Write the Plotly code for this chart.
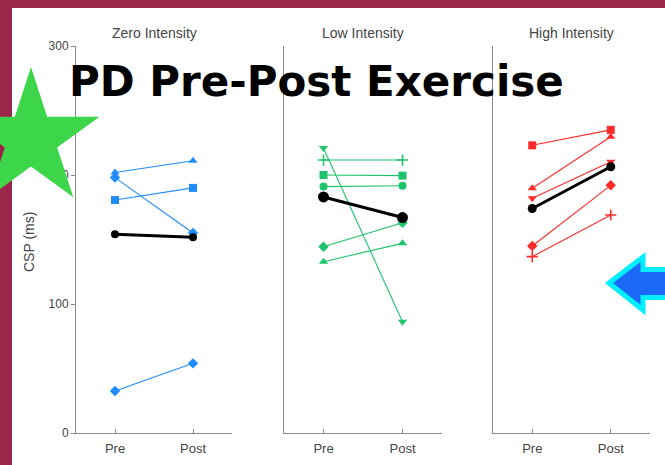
import math
import plotly.graph_objects as go

# ---------------- data ----------------
phases = ["Pre", "Post"]
panel_titles = ["Zero Intensity", "Low Intensity", "High Intensity"]
y_ticks = [0, 100, 200, 300]
y_title = "CSP (ms)"
main_title = "PD Pre-Post Exercise"

# Zero intensity (blue)
zero_pre = [202, 198, 180.6, 32.6]
zero_post = [211, 155, 190, 54]
zero_symbols = ["triangle-up", "diamond", "square", "diamond"]
zero_mean_pre, zero_mean_post = 154, 151.7

# Low intensity (green)
low_pre = [221, 211.6, 200, 191, 144.4, 132.8]
low_post = [86.3, 211.6, 199.5, 191.7, 163, 147]
low_symbols = ["triangle-down", "cross-thin", "square", "circle", "diamond", "triangle-up"]
low_mean_pre, low_mean_post = 183, 167

# High intensity (red)
high_pre = [223, 189.7, 182, 145, 136.7]
high_post = [235, 229.7, 210.3, 192, 169]
high_symbols = ["square", "triangle-up", "triangle-down", "diamond", "cross-thin"]
high_mean_pre, high_mean_post = 174, 206.4

# ---------------- styles ----------------
W, H = 665, 465
BLUE = "#1E8CFF"
GREEN = "#1DC46B"
RED = "#FF2A2A"
AXIS_GREY = "#8a8a8a"
TEXT_GREY = "#444444"
MAROON = "#9B2648"
STAR_GREEN = "#3DD64B"
ARROW_BLUE = "#1C68F8"
ARROW_CYAN = "#00EEFF"

def px_x(p):
    return p / W

def px_y(p):
    return 1 - p / H

panels = [
    dict(pre=zero_pre, post=zero_post, sym=zero_symbols, color=BLUE,
         mean=(zero_mean_pre, zero_mean_post), msize=8, dom=(76, 232)),
    dict(pre=low_pre, post=low_post, sym=low_symbols, color=GREEN,
         mean=(low_mean_pre, low_mean_post), msize=11, dom=(284, 442)),
    dict(pre=high_pre, post=high_post, sym=high_symbols, color=RED,
         mean=(high_mean_pre, high_mean_post), msize=9, dom=(493, 650)),
]

fig = go.Figure()

for i, p in enumerate(panels):
    ax = "" if i == 0 else str(i + 1)
    for a, b, s in zip(p["pre"], p["post"], p["sym"]):
        thin = s.startswith("cross-thin")
        fig.add_trace(go.Scatter(
            x=phases, y=[a, b], mode="lines+markers",
            xaxis="x" + ax, yaxis="y" + ax,
            line=dict(color=p["color"], width=1.1),
            marker=dict(symbol=s, size=8, color=p["color"],
                        line=dict(color=p["color"], width=1.6 if thin else 0)),
            showlegend=False, hoverinfo="skip"))
    fig.add_trace(go.Scatter(
        x=phases, y=list(p["mean"]), mode="lines+markers",
        xaxis="x" + ax, yaxis="y" + ax,
        line=dict(color="black", width=3),
        marker=dict(symbol="circle", size=p["msize"], color="black"),
        showlegend=False, hoverinfo="skip"))

y_dom = [px_y(433), px_y(46)]
layout = dict(
    template="none",
    width=W, height=H,
    margin=dict(l=0, r=0, t=0, b=0, pad=0, autoexpand=False),
    paper_bgcolor="white", plot_bgcolor="rgba(0,0,0,0)",
    font=dict(family="Liberation Sans, Arial, sans-serif", size=12, color=TEXT_GREY),
    showlegend=False,
)
for i, p in enumerate(panels):
    sfx = "" if i == 0 else str(i + 1)
    layout["xaxis" + sfx] = dict(
        domain=[px_x(p["dom"][0]), px_x(p["dom"][1])],
        anchor="y" + sfx, type="category", categoryorder="array", categoryarray=phases,
        range=[-0.5, 1.5], showline=True, linecolor=AXIS_GREY, linewidth=1,
        ticks="inside", ticklen=4, tickcolor=AXIS_GREY, showgrid=False, zeroline=False,
        tickfont=dict(size=13, color=TEXT_GREY), ticklabelstandoff=3, fixedrange=True,
        automargin=False)
    layout["yaxis" + sfx] = dict(
        domain=y_dom, anchor="x" + sfx, range=[0, 300],
        showline=True, linecolor=AXIS_GREY, linewidth=1, showgrid=False, zeroline=False,
        tickvals=y_ticks if i == 0 else [], ticks="outside" if i == 0 else "",
        ticklen=4, tickcolor=AXIS_GREY, showticklabels=(i == 0),
        tickfont=dict(size=12, color=TEXT_GREY), fixedrange=True, automargin=False)
fig.update_layout(**layout)

annotations = []
for t, p in zip(panel_titles, panels):
    annotations.append(dict(
        text=t, x=px_x((p["dom"][0] + p["dom"][1]) / 2), y=px_y(33),
        xref="paper", yref="paper", showarrow=False, xanchor="center", yanchor="middle",
        font=dict(size=14, color=TEXT_GREY, family="Liberation Sans, Arial, sans-serif")))
annotations.append(dict(
    text=y_title, x=px_x(29), y=px_y(242), xref="paper", yref="paper",
    showarrow=False, textangle=-90, xanchor="center", yanchor="middle",
    font=dict(size=14, color=TEXT_GREY)))
annotations.append(dict(
    text="<b>" + main_title + "</b>", x=px_x(316), y=px_y(82), xref="paper", yref="paper",
    showarrow=False, xanchor="center", yanchor="middle",
    font=dict(size=42, color="black", family="DejaVu Sans")))
fig.update_layout(annotations=annotations)

# ---------------- decorations ----------------
shapes = []
# maroon frame
shapes.append(dict(type="rect", xref="paper", yref="paper", x0=-0.01, x1=px_x(12), y0=-0.01, y1=1.01,
                   fillcolor=MAROON, line=dict(width=0), layer="above"))
shapes.append(dict(type="rect", xref="paper", yref="paper", x0=-0.01, x1=1.01, y0=px_y(8), y1=1.01,
                   fillcolor=MAROON, line=dict(width=0), layer="above"))
# green star
cx, cy, R = 31, 139, 72
r = R * 0.382
pts = []
for k in range(10):
    ang = math.radians(-90 + 36 * k)
    rad = R if k % 2 == 0 else r
    pts.append((cx + rad * math.cos(ang), cy + rad * math.sin(ang)))
star_path = "M" + " L".join(f"{px_x(x):.5f},{px_y(y):.5f}" for x, y in pts) + " Z"
shapes.append(dict(type="path", xref="paper", yref="paper", path=star_path,
                   fillcolor=STAR_GREEN, line=dict(width=0), layer="above"))
# blue arrow with cyan outline
arrow = [(609, 283), (643, 257), (643, 269.5), (690, 269.5), (690, 297.5),
         (643, 297.5), (643, 310)]
arrow_path = "M" + " L".join(f"{px_x(x):.5f},{px_y(y):.5f}" for x, y in arrow) + " Z"
shapes.append(dict(type="path", xref="paper", yref="paper", path=arrow_path,
                   fillcolor=ARROW_BLUE, line=dict(color=ARROW_CYAN, width=5), layer="above"))
fig.update_layout(shapes=shapes)

fig.write_html("out.html", config={"displayModeBar": False, "staticPlot": True},
               post_script="document.body.style.margin='0px';document.body.style.overflow='hidden';")
